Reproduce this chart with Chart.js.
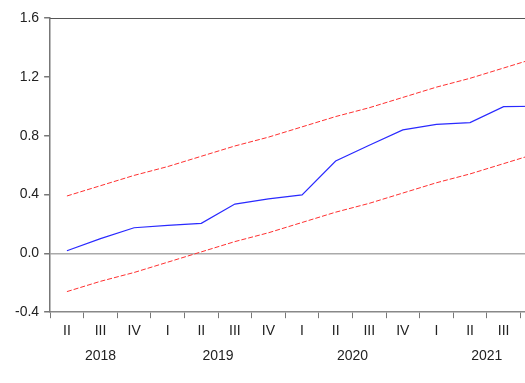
<!DOCTYPE html>
<html>
<head>
<meta charset="utf-8">
<script src="https://cdn.jsdelivr.net/npm/chart.js@4/dist/chart.umd.min.js"></script>
<style>
  html, body { margin: 0; padding: 0; background: #fff; overflow: hidden; }
  #wrap { width: 560px; height: 383px; position: relative; }
</style>
</head>
<body>
<div id="wrap"><canvas id="cusumChart"></canvas></div>
<script>
// Quarters 2018Q2 .. 2021Q4
const quarters = ['II', 'III', 'IV', 'I', 'II', 'III', 'IV', 'I', 'II', 'III', 'IV', 'I', 'II', 'III', 'IV'];
const years = ['2018', '2018', '2018', '2019', '2019', '2019', '2019', '2020', '2020', '2020', '2020', '2021', '2021', '2021', '2021'];

// CUSUM of squares
const cusumSq = [0.018, 0.10, 0.174, 0.19, 0.204, 0.335, 0.37, 0.397, 0.628, 0.735, 0.839, 0.877, 0.889, 0.997, 1.0];

// 5% significance bounds
const upperBound = [0.39, 0.46, 0.53, 0.59, 0.66, 0.73, 0.79, 0.86, 0.93, 0.99, 1.06, 1.13, 1.19, 1.26, 1.33];
const lowerBound = [-0.26, -0.19, -0.13, -0.06, 0.01, 0.08, 0.14, 0.21, 0.28, 0.34, 0.41, 0.48, 0.54, 0.61, 0.68];

const yTicks = [-0.4, 0.0, 0.4, 0.8, 1.2, 1.6];

const fontFamily = '"Liberation Sans", Arial, sans-serif';

// Frame on top + year labels under the quarters
const framePlugin = {
    id: 'frame',
    afterDraw(chart) {
        const ctx = chart.ctx;
        const area = chart.chartArea;
        ctx.save();
        ctx.strokeStyle = '#555';
        ctx.lineWidth = 1;
        ctx.beginPath();
        ctx.moveTo(area.left, area.top + 0.5);
        ctx.lineTo(area.right, area.top + 0.5);
        ctx.moveTo(area.right - 0.5, area.top);
        ctx.lineTo(area.right - 0.5, area.bottom);
        ctx.stroke();

        const xScale = chart.scales.x;
        ctx.fillStyle = '#222';
        ctx.font = '14px ' + fontFamily;
        ctx.textAlign = 'center';
        ctx.textBaseline = 'middle';
        const seen = [...new Set(years)];
        seen.forEach(y => {
            const idx = years.map((v, i) => v === y ? i : -1).filter(i => i >= 0);
            const x0 = xScale.getPixelForValue(idx[0]);
            const x1 = xScale.getPixelForValue(idx[idx.length - 1]);
            ctx.fillText(y, (x0 + x1) / 2, area.bottom + 44);
        });
        ctx.restore();
    }
};

const ctx = document.getElementById('cusumChart').getContext('2d');

new Chart(ctx, {
    type: 'line',
    data: {
        labels: quarters,
        datasets: [
            {
                label: 'CUSUM of Squares',
                data: cusumSq,
                borderColor: '#2a2aff',
                borderWidth: 1.2,
                pointRadius: 0,
                tension: 0
            },
            {
                label: '5% Significance',
                data: upperBound,
                borderColor: '#ff3030',
                borderWidth: 1,
                borderDash: [5, 2],
                pointRadius: 0
            },
            {
                label: '5% Significance (lower)',
                data: lowerBound,
                borderColor: '#ff3030',
                borderWidth: 1,
                borderDash: [5, 2],
                pointRadius: 0
            }
        ]
    },
    options: {
        responsive: true,
        maintainAspectRatio: false,
        animation: false,
        layout: { padding: { left: 10, right: 6, top: 18, bottom: 38 } },
        plugins: {
            legend: { display: false },
            tooltip: { enabled: false }
        },
        scales: {
            x: {
                type: 'category',
                offset: true,
                grid: {
                    offset: true,
                    drawOnChartArea: false,
                    drawTicks: true,
                    tickLength: 6,
                    tickColor: '#777'
                },
                border: { display: true, color: '#888', width: 1.5 },
                ticks: {
                    color: '#222',
                    font: { family: fontFamily, size: 14 },
                    padding: 5,
                    maxRotation: 0,
                    autoSkip: false
                }
            },
            y: {
                min: -0.4,
                max: 1.6,
                afterBuildTicks: axis => { axis.ticks = yTicks.map(v => ({ value: v })); },
                grid: {
                    color: c => (c.tick && c.tick.value === 0 ? '#aaa' : 'transparent'),
                    lineWidth: 1.5,
                    tickColor: '#777',
                    tickLength: 6
                },
                border: { display: true, color: '#777', width: 1.5 },
                ticks: {
                    color: '#222',
                    font: { family: fontFamily, size: 14 },
                    padding: 5,
                    callback: v => v.toFixed(1)
                }
            }
        }
    },
    plugins: [framePlugin]
});
</script>
</body>
</html>
